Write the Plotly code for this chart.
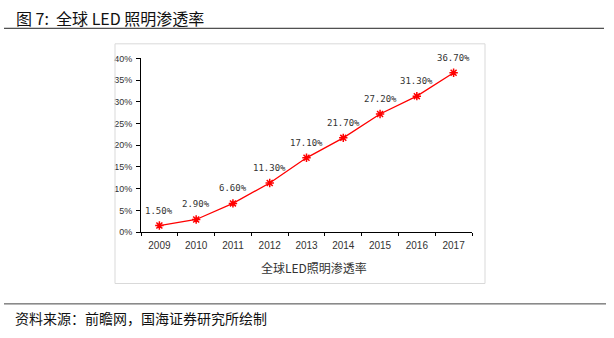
import plotly.graph_objects as go

W, H = 614, 338

years = ["2009", "2010", "2011", "2012", "2013", "2014", "2015", "2016", "2017"]
penetration = [1.5, 2.9, 6.6, 11.3, 17.1, 21.7, 27.2, 31.3, 36.7]
value_labels = [f"{v:.2f}%" for v in penetration]

chart_title = "图 7:  全球 LED 照明渗透率"
series_name = "全球LED照明渗透率"
source_note = "资料来源：前瞻网，国海证券研究所绘制"


def px_x(p):
    return p / W


def px_y(p):
    return 1 - p / H


fig = go.Figure()
fig.add_trace(go.Scatter(
    x=years,
    y=penetration,
    mode="lines+markers",
    line=dict(color="#ff0000", width=1.3),
    marker=dict(symbol="asterisk-open", size=7,
                line=dict(color="#ff0000", width=1.5), color="#ff0000"),
    cliponaxis=False,
    showlegend=False,
))

# value labels sitting above each point (x given as category index)
label_notes = [
    dict(x=i, y=v, text=t, xref="x", yref="y", showarrow=False,
         yshift=15, xanchor="center", yanchor="middle",
         font=dict(family="DejaVu Sans Mono", size=9, color="#333333"))
    for i, (v, t) in enumerate(zip(penetration, value_labels))
]

fig.update_layout(
    width=W, height=H,
    margin=dict(l=0, r=0, t=0, b=0),
    paper_bgcolor="white",
    plot_bgcolor="white",
    xaxis=dict(
        domain=[px_x(141), px_x(472)],
        type="category",
        range=[-0.5, 8.5],
        showline=True, linecolor="#000000", linewidth=1,
        ticks="outside", ticklen=3, tickcolor="#000000",
        tickson="boundaries",
        ticklabelstandoff=4,
        showgrid=False, zeroline=False,
        tickfont=dict(family="Liberation Sans", size=10, color="#333333"),
    ),
    yaxis=dict(
        domain=[px_y(234), px_y(55)],
        range=[0, 40],
        dtick=5,
        ticksuffix="%",
        showline=True, linecolor="#000000", linewidth=1,
        ticks="outside", ticklen=4, tickcolor="#000000",
        ticklabelstandoff=2,
        showgrid=False, zeroline=False,
        tickfont=dict(family="Liberation Sans", size=9, color="#333333"),
    ),
    shapes=[
        # chart frame
        dict(type="rect", xref="paper", yref="paper",
             x0=px_x(115), x1=px_x(485), y0=px_y(287), y1=px_y(40),
             line=dict(color="#d9d9d9", width=1)),
        # rule under the heading
        dict(type="line", xref="paper", yref="paper",
             x0=px_x(4), x1=px_x(604), y0=px_y(24), y1=px_y(24),
             line=dict(color="#222222", width=1)),
        # rule above the source note
        dict(type="line", xref="paper", yref="paper",
             x0=px_x(4), x1=px_x(606), y0=px_y(308), y1=px_y(308),
             line=dict(color="#444444", width=1)),
    ],
    annotations=label_notes + [
        dict(text=chart_title, xref="paper", yref="paper",
             x=px_x(14), y=px_y(13), xanchor="left", yanchor="middle",
             showarrow=False,
             font=dict(family="Noto Sans CJK SC", size=16, color="#111111")),
        dict(text=series_name, xref="paper", yref="paper",
             x=px_x(314), y=px_y(271), xanchor="center", yanchor="middle",
             showarrow=False,
             font=dict(family="Noto Sans CJK SC", size=12, color="#333333")),
        dict(text=source_note, xref="paper", yref="paper",
             x=px_x(13), y=px_y(323), xanchor="left", yanchor="middle",
             showarrow=False,
             font=dict(family="Noto Sans CJK SC", size=14, color="#111111")),
    ],
)

fig.write_html("out.html")
